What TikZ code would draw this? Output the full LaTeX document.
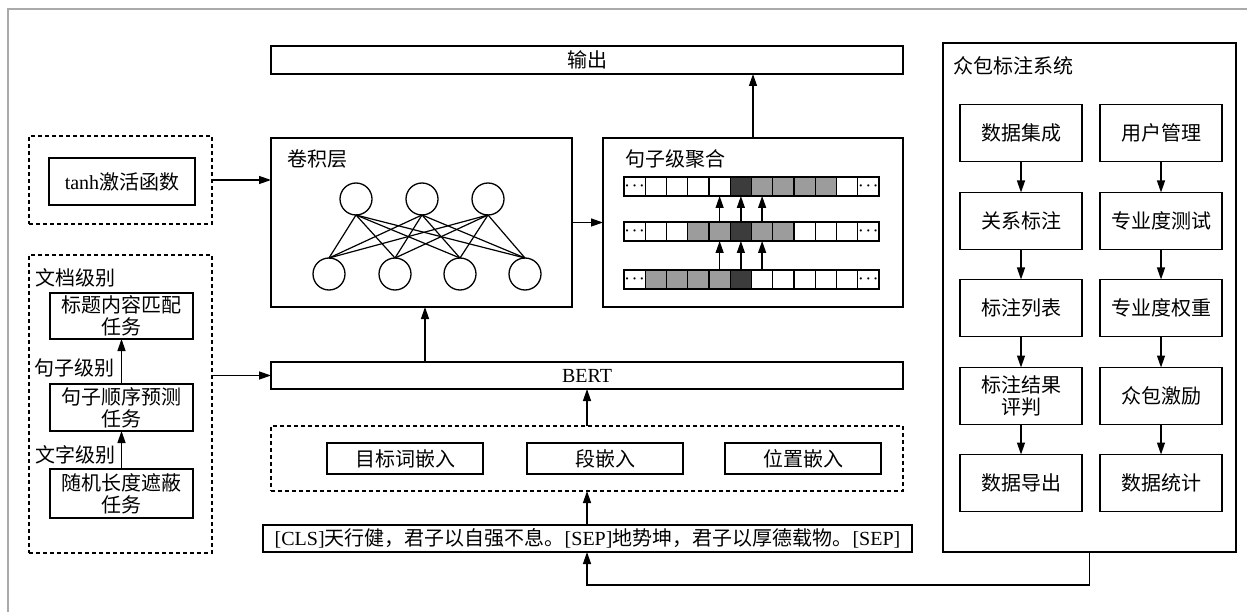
\documentclass[tikz,border=0pt]{standalone}
\usepackage{fontspec}
\setmainfont{Liberation Serif}
\newfontfamily\cjk{Noto Sans CJK SC}
\usetikzlibrary{arrows.meta,calc}
\definecolor{cellD}{HTML}{3C3C3C}
\definecolor{cellG}{HTML}{9C9C9C}
\definecolor{frameC}{HTML}{AAAAAA}
\newcommand\mytxt{\fontsize{20}{22}\selectfont}
\begin{document}
\begin{tikzpicture}[x=1pt,y=-1pt,
 every node/.style={inner sep=0pt, outer sep=0pt},
 box/.style={draw, line width=1.8pt, font={\cjk\mytxt}, align=center},
 dbox/.style={draw, line width=1.8pt, dash pattern=on 4pt off 3pt},
 lbl/.style={font={\cjk\mytxt}, anchor=west},
 arr/.style={line width=1.3pt, -{Triangle[length=12pt,width=8pt]}},
 cell/.style={draw, line width=1.2pt, minimum width=21.25pt, minimum height=19pt},
 neu/.style={draw, circle, line width=1.3pt, minimum size=32pt},
 link/.style={line width=1.2pt},
 dots/.style={font=\fontsize{14}{14}\selectfont\boldmath},
]
\useasboundingbox (0,0) rectangle (1247,612);
\draw[frameC, line width=1.5pt] (8,612) -- (8,9) -- (1247,9);

% output
\node[box, minimum width=632pt, minimum height=28pt] (out) at (587,60) {输出};

% conv layer
\node[box, minimum width=301pt, minimum height=169pt] (conv) at (421.5,222.5) {};
\node[lbl] (convt) at (287,159) {卷积层};
\node[neu] (nt1) at (356,199) {};
\node[neu] (nt2) at (422,199) {};
\node[neu] (nt3) at (488,199) {};
\node[neu] (nb1) at (329,274) {};
\node[neu] (nb2) at (395,274) {};
\node[neu] (nb3) at (460,274) {};
\node[neu] (nb4) at (525,274) {};
\foreach \i in {1,2,3}{\foreach \j in {1,2,3,4}{\draw[link] (nt\i.south) -- (nb\j.north);}}

% sentence aggregation
\node[box, minimum width=300pt, minimum height=169pt] (agg) at (753,222.5) {};
\node[lbl] (aggt) at (625,159) {句子级聚合};
\def\colsa{white,white,white,white,white,cellD,cellG,cellG,cellG,cellG,white,white}
\def\colsb{white,white,white,cellG,cellG,cellD,cellG,cellG,white,white,white,white}
\def\colsc{white,cellG,cellG,cellG,cellG,cellD,white,white,white,white,white,white}
\foreach \r/\y in {a/186.5,b/231.5,c/279.5}{
  \edef\cols{\csname cols\r\endcsname}
  \foreach \cc [count=\i from 0] in \cols{
    \node[cell, fill=\cc] (\r\i) at ({624+21.25*(\i+0.5)},\y) {};
  }
  \node[dots] (\r dl) at (\r0) {$\cdots$};
  \node[dots] (\r dr) at (\r11) {$\cdots$};
}
\foreach \k in {4,5,6}{
  \draw[arr] (c\k.north) -- (b\k.south);
  \draw[arr] (b\k.north) -- (a\k.south);
}

% BERT and embeddings
\node[box, font=\mytxt, minimum width=632pt, minimum height=27pt] (bert) at (587,375.5) {BERT};
\node[dbox, minimum width=632pt, minimum height=65pt] (emb) at (587,458.5) {};
\node[box, minimum width=156pt, minimum height=31pt] (e1) at (405,458.5) {目标词嵌入};
\node[box, minimum width=156pt, minimum height=31pt] (e2) at (605,458.5) {段嵌入};
\node[box, minimum width=156pt, minimum height=31pt] (e3) at (803,458.5) {位置嵌入};
\node[box, font=\mytxt, minimum width=649pt, minimum height=27pt] (inp) at (587.5,538.5)
  {[CLS]{\cjk 天行健，君子以自强不息。}[SEP]{\cjk 地势坤，君子以厚德载物。}[SEP]};

% left: activation
\node[dbox, minimum width=183pt, minimum height=88pt] (act) at (120.5,180) {};
\node[box, font=\mytxt, minimum width=146pt, minimum height=47pt] (tanh) at (122,181.5) {tanh{\cjk 激活函数}};

% left: tasks
\node[dbox, minimum width=183pt, minimum height=298pt] (tasks) at (120.5,404) {};
\node[lbl] (lv1) at (35,278) {文档级别};
\node[lbl] (lv2) at (34,368) {句子级别};
\node[lbl] (lv3) at (35,455) {文字级别};
\node[box, minimum width=143pt, minimum height=46pt] (t1) at (121.5,316) {标题内容匹配\\任务};
\node[box, minimum width=143pt, minimum height=47pt] (t2) at (121.5,407.5) {句子顺序预测\\任务};
\node[box, minimum width=143pt, minimum height=49pt] (t3) at (121.5,493.5) {随机长度遮蔽\\任务};
\draw[arr] (t3.north) -- (t2.south);
\draw[arr] (t2.north) -- (t1.south);

% crowdsourcing system
\node[box, minimum width=293pt, minimum height=509pt] (crowd) at (1089.5,297.5) {};
\node[lbl] (crowdt) at (953,66) {众包标注系统};
\foreach \n/\y/\tl/\tr in {1/133/数据集成/用户管理, 2/221/关系标注/专业度测试, 3/308/标注列表/专业度权重, 4/396/标注结果\\评判/众包激励, 5/483/数据导出/数据统计}{
  \node[box, minimum width=122pt, minimum height=57pt] (l\n) at (1021,\y) {\tl};
  \node[box, minimum width=122pt, minimum height=57pt] (r\n) at (1161,\y) {\tr};
}
\foreach \n [evaluate=\n as \m using int(\n+1)] in {1,2,3,4}{
  \draw[arr] (l\n.south) -- (l\m.north);
  \draw[arr] (r\n.south) -- (r\m.north);
}

% connectors
\coordinate (bc) at (425,362);
\draw[arr] (act.east) -- (act.east -| conv.west);
\draw[arr] (tasks.east |- bert.west) -- (bert.west);
\draw[arr] (bc) -- (bc |- conv.south);
\draw[arr] (conv.east) -- (agg.west);
\draw[arr] (agg.north) -- (agg.north |- out.south);
\draw[arr] (emb.north) -- (bert.south);
\draw[arr] (inp.north -| emb.south) -- (emb.south);
\draw[arr] (crowd.south) -- ++(0,33) -| (inp.south -| emb.south);
\end{tikzpicture}
\end{document}
